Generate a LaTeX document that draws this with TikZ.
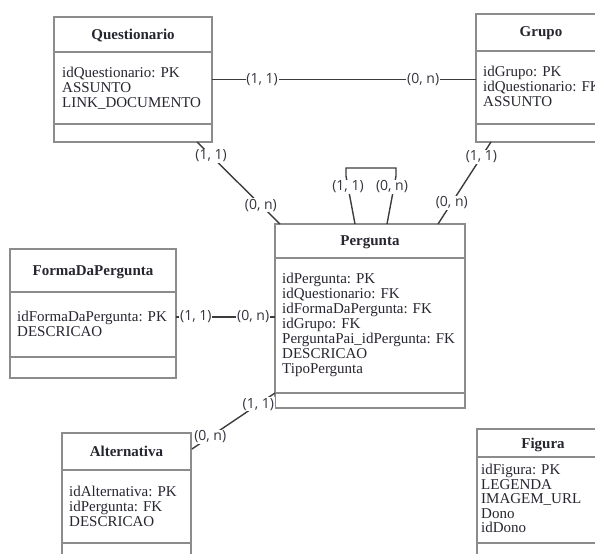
\documentclass[tikz,border=0pt]{standalone}
\usepackage{fontspec}
\setmainfont{Liberation Serif}
\newfontfamily\lblfont{Open Sans}
\definecolor{boxgray}{HTML}{8C8C8C}
\definecolor{txtcol}{HTML}{262630}
\definecolor{linecol}{HTML}{3C3C3C}
\definecolor{lblcol}{HTML}{34343E}
\begin{document}
\begin{tikzpicture}[x=1pt,y=-1pt,
  box/.style={draw=boxgray, line width=1.1pt, fill=white, anchor=north west, outer sep=0pt, inner sep=0pt},
  sep/.style={draw=boxgray, line width=1.1pt},
  title/.style={font=\fontsize{15}{15}\selectfont\bfseries, text=txtcol, anchor=base, inner sep=0pt},
  attr/.style={font=\fontsize{15}{15}\selectfont, text=txtcol, anchor=base west, align=left, inner sep=0pt},
  conn/.style={draw=linecol, line width=1.4pt},
  lbl/.style={font=\lblfont\fontsize{14}{15}\selectfont, text=lblcol, fill=white, inner sep=0.8pt}]
\useasboundingbox (0,0) rectangle (595,554);
\clip (0,0) rectangle (595,554);

% Questionario
\node[box, minimum width=158pt, minimum height=125pt] (Q) at (54,17) {};
\draw[sep] (54,52) -- (212,52);
\draw[sep] (54,124) -- (212,124);
\node[title] (Qt) at (133,39.5) {Questionario};
\node[attr] (Qa) at (62,107.5) {idQuestionario: PK\\ASSUNTO\\LINK\_DOCUMENTO};

% Grupo
\node[box, minimum width=130pt, minimum height=128pt] (G) at (476,14) {};
\draw[sep] (476,51) -- (606,51);
\draw[sep] (476,124) -- (606,124);
\node[title] (Gt) at (541,36.5) {Grupo};
\node[attr] (Ga) at (483,106.5) {idGrupo: PK\\idQuestionario: FK\\ASSUNTO};

% Pergunta
\node[box, minimum width=190pt, minimum height=184pt] (P) at (275,224) {};
\draw[sep] (275,258) -- (465,258);
\draw[sep] (275,393) -- (465,393);
\node[title] (Pt) at (370,245.5) {Pergunta};
\node[attr] (Pa) at (282,373.5) {idPergunta: PK\\idQuestionario: FK\\idFormaDaPergunta: FK\\idGrupo: FK\\PerguntaPai\_idPergunta: FK\\DESCRICAO\\TipoPergunta};

% FormaDaPergunta
\node[box, minimum width=166pt, minimum height=129pt] (F) at (10,249) {};
\draw[sep] (10,292) -- (176,292);
\draw[sep] (10,357) -- (176,357);
\node[title] (Ft) at (93,275.5) {FormaDaPergunta};
\node[attr] (Fa) at (17,336.5) {idFormaDaPergunta: PK\\DESCRICAO};

% Alternativa
\node[box, minimum width=129pt, minimum height=140pt] (A) at (62,433) {};
\draw[sep] (62,470) -- (191,470);
\draw[sep] (62,543) -- (191,543);
\node[title] (At) at (126.5,456.5) {Alternativa};
\node[attr] (Aa) at (69,526.5) {idAlternativa: PK\\idPergunta: FK\\DESCRICAO};

% Figura
\node[box, minimum width=132pt, minimum height=140pt] (Fig) at (477,429) {};
\draw[sep] (477,457) -- (609,457);
\draw[sep] (477,543) -- (609,543);
\node[title] (Figt) at (543,448.5) {Figura};
\node[attr, font=\fontsize{15}{14.5}\selectfont] (Figa) at (481,532.5) {idFigura: PK\\LEGENDA\\IMAGEM\_URL\\Dono\\idDono};

% connector end points
\coordinate (qp1) at (197,142);
\coordinate (qp2) at (280,224);
\coordinate (gp1) at (491,142);
\coordinate (gp2) at (438,224);
\coordinate (ap1) at (192,449);
\coordinate (ap2) at (275,393);
\coordinate (s1) at (355,224);
\coordinate (s2) at (346,176);
\coordinate (s3) at (346,168);
\coordinate (s4) at (396,168);
\coordinate (s5) at (396,176);
\coordinate (s6) at (387,224);

% Questionario -- Grupo
\draw[conn] (Q.east) -- node[lbl, pos=0.19] (l1) {(1, 1)} node[lbl, pos=0.8] (l2) {(0, n)} (Q.east -| G.west);
% Questionario -- Pergunta
\draw[conn] (qp1) -- node[lbl, pos=0.17] (l3) {(1, 1)} node[lbl, pos=0.77] (l4) {(0, n)} (qp2);
% Grupo -- Pergunta
\draw[conn] (gp1) -- node[lbl, pos=0.18] (l5) {(1, 1)} node[lbl, pos=0.74] (l6) {(0, n)} (gp2);
% self relationship
\draw[conn] (s1) -- (s2) -- (s3) -- (s4) -- (s5) -- (s6);
\node[lbl] (l7) at (348,187) {(1, 1)};
\node[lbl] (l8) at (392,187) {(0, n)};
% FormaDaPergunta -- Pergunta
\draw[conn] (F.east |- 0,317) -- node[lbl, pos=0.2] (l9) {(1, 1)} node[lbl, pos=0.78] (l10) {(0, n)} (P.west |- 0,317);
% Alternativa -- Pergunta
\draw[conn] (ap1) -- node[lbl, pos=0.22] (l11) {(0, n)} node[lbl, pos=0.8] (l12) {(1, 1)} (ap2);
\end{tikzpicture}
\end{document}
